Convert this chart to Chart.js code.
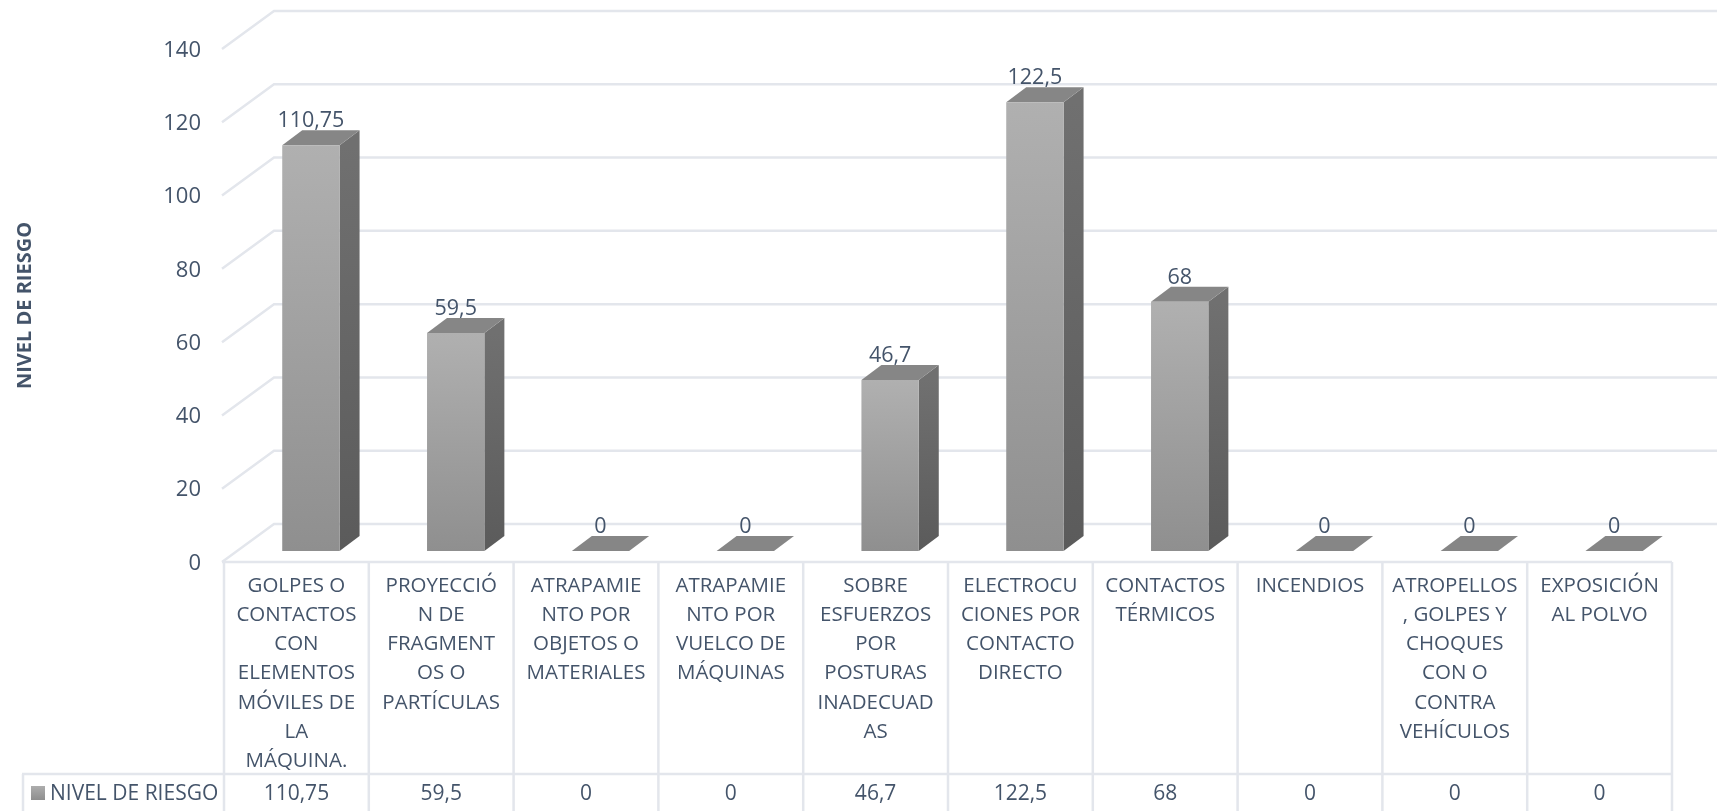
<!DOCTYPE html>
<html>
<head>
<meta charset="utf-8">
<title>Nivel de riesgo</title>
<script src="https://cdn.jsdelivr.net/npm/chart.js@4"></script>
<style>
  html, body { margin: 0; background: #fff; }
  canvas { display: block; }
</style>
</head>
<body>
<canvas id="grafico" width="1717" height="811"></canvas>
<script>
const categorias = [
    ["GOLPES O", "CONTACTOS", "CON", "ELEMENTOS", "MÓVILES DE", "LA", "MÁQUINA."],
    ["PROYECCIÓ", "N DE", "FRAGMENT", "OS O", "PARTÍCULAS"],
    ["ATRAPAMIE", "NTO POR", "OBJETOS O", "MATERIALES"],
    ["ATRAPAMIE", "NTO POR", "VUELCO DE", "MÁQUINAS"],
    ["SOBRE", "ESFUERZOS", "POR", "POSTURAS", "INADECUAD", "AS"],
    ["ELECTROCU", "CIONES POR", "CONTACTO", "DIRECTO"],
    ["CONTACTOS", "TÉRMICOS"],
    ["INCENDIOS"],
    ["ATROPELLOS", ", GOLPES Y", "CHOQUES", "CON O", "CONTRA", "VEHÍCULOS"],
    ["EXPOSICIÓN", "AL POLVO"]
];
const valores = [110.75, 59.5, 0, 0, 46.7, 122.5, 68, 0, 0, 0];
const serie = "NIVEL DE RIESGO";

const TEXTO = "#44546a";
const REJILLA = "#e3e6ec";
const FUENTE = "'Open Sans'";

// profundidad del suelo / pared y de las barras
const FONDO_X = 50, FONDO_Y = 38;
const BARRA_X = 20, BARRA_Y = 15;
const DESPLAZA_X = 14.5, DESPLAZA_Y = 11;

function coma(v) { return String(v).replace(".", ","); }

function degradado(ctx, y1, y2, c1, c2) {
    let g = ctx.createLinearGradient(0, y1, 0, y2);
    g.addColorStop(0, c1);
    g.addColorStop(1, c2);
    return g;
}

// Rejilla en perspectiva: pared del fondo y lado izquierdo
function dibujarRejilla(chart) {
    let ctx = chart.ctx, area = chart.chartArea, y = chart.scales.y;
    ctx.save();
    ctx.strokeStyle = REJILLA;
    ctx.lineWidth = 2.5;
    y.ticks.forEach(function (t) {
        let py = y.getPixelForValue(t.value);
        ctx.beginPath();
        ctx.moveTo(area.left - 2, py);
        ctx.lineTo(area.left + FONDO_X, py - FONDO_Y);
        ctx.lineTo(chart.width, py - FONDO_Y);
        ctx.stroke();
    });
    ctx.restore();
}

// Caras lateral y superior de cada barra
function dibujarCaras(chart) {
    let ctx = chart.ctx;
    chart.getDatasetMeta(0).data.forEach(function (barra) {
        let izq = barra.x - barra.width / 2, der = barra.x + barra.width / 2;
        if (barra.base - barra.y > 0) {
            ctx.fillStyle = degradado(ctx, barra.y, barra.base, "#707070", "#5b5b5b");
            ctx.beginPath();
            ctx.moveTo(der, barra.y);
            ctx.lineTo(der + BARRA_X, barra.y - BARRA_Y);
            ctx.lineTo(der + BARRA_X, barra.base - BARRA_Y);
            ctx.lineTo(der, barra.base);
            ctx.closePath();
            ctx.fill();
        }
        ctx.fillStyle = "#868686";
        ctx.beginPath();
        ctx.moveTo(izq, barra.y);
        ctx.lineTo(der, barra.y);
        ctx.lineTo(der + BARRA_X, barra.y - BARRA_Y);
        ctx.lineTo(izq + BARRA_X, barra.y - BARRA_Y);
        ctx.closePath();
        ctx.fill();
    });
}

// Cuadricula de la tabla de datos bajo el eje
function dibujarTabla(chart) {
    let ctx = chart.ctx, area = chart.chartArea, x = chart.scales.x;
    let ancho = (area.right - area.left) / valores.length;
    let filaY = 774, filaCentro = 794;

    ctx.save();
    ctx.strokeStyle = REJILLA;
    ctx.lineWidth = 2.5;
    ctx.beginPath();
    ctx.moveTo(area.left - 2, area.bottom);
    ctx.lineTo(area.right, area.bottom);
    ctx.moveTo(22, filaY);
    ctx.lineTo(area.right, filaY);
    ctx.moveTo(23, filaY);
    ctx.lineTo(23, chart.height);
    for (let i = 0; i <= valores.length; i++) {
        ctx.moveTo(area.left + i * ancho, area.bottom);
        ctx.lineTo(area.left + i * ancho, chart.height);
    }
    ctx.stroke();

    ctx.fillStyle = degradado(ctx, 786, 800, "#adadad", "#8e8e8e");
    ctx.fillRect(31, 786, 14, 14);

    ctx.fillStyle = TEXTO;
    ctx.font = "21px " + FUENTE;
    ctx.textBaseline = "middle";
    ctx.textAlign = "left";
    ctx.fillText(serie, 50, filaCentro);
    ctx.textAlign = "center";
    valores.forEach(function (v, i) {
        ctx.fillText(coma(v), x.getPixelForValue(i), filaCentro);
    });
    ctx.restore();
}

const tresD = {
    id: "tresD",
    beforeDatasetsDraw(chart) {
        dibujarRejilla(chart);
        dibujarTabla(chart);
        chart.ctx.save();
        chart.ctx.translate(DESPLAZA_X, -DESPLAZA_Y);
        dibujarCaras(chart);
    },
    afterDatasetsDraw(chart) {
        let ctx = chart.ctx;
        ctx.fillStyle = TEXTO;
        ctx.font = "21.5px " + FUENTE;
        ctx.textAlign = "center";
        ctx.textBaseline = "middle";
        chart.getDatasetMeta(0).data.forEach(function (barra, i) {
            ctx.fillText(coma(valores[i]), barra.x, barra.y - 24);
        });
        ctx.restore();
    }
};

new Chart(document.getElementById("grafico"), {
    type: "bar",
    data: {
        labels: categorias,
        datasets: [{
            label: serie,
            data: valores,
            clip: false,
            categoryPercentage: 1,
            barPercentage: 0.396,
            backgroundColor: function (c) {
                let area = c.chart.chartArea;
                if (!area || c.parsed === undefined) return "#a0a0a0";
                let y = c.chart.scales.y;
                return degradado(c.chart.ctx, y.getPixelForValue(c.parsed.y), y.getPixelForValue(0), "#b0b0b0", "#8f8f8f");
            }
        }]
    },
    options: {
        responsive: false,
        animation: false,
        layout: { padding: { top: 49, right: 45, left: 0, bottom: 0 } },
        plugins: { legend: { display: false }, tooltip: { enabled: false } },
        scales: {
            x: {
                grid: { display: false },
                border: { display: false },
                ticks: {
                    autoSkip: false,
                    maxRotation: 0,
                    minRotation: 0,
                    padding: 1,
                    color: TEXTO,
                    font: { family: FUENTE, size: 20.5, lineHeight: 1.43 }
                },
                afterFit(eje) { eje.height = 249; eje.paddingLeft = 0; eje.paddingRight = 0; }
            },
            y: {
                min: 0,
                max: 140,
                grid: { display: false },
                border: { display: false },
                ticks: {
                    stepSize: 20,
                    padding: 15,
                    labelOffset: 1.5,
                    color: TEXTO,
                    font: { family: FUENTE, size: 22 }
                },
                title: {
                    display: true,
                    text: serie,
                    color: TEXTO,
                    padding: { top: 13, bottom: 0 },
                    font: { family: FUENTE, size: 20, weight: "bold" }
                },
                afterFit(eje) { eje.width = 224; }
            }
        }
    },
    plugins: [tresD]
});
</script>
</body>
</html>
